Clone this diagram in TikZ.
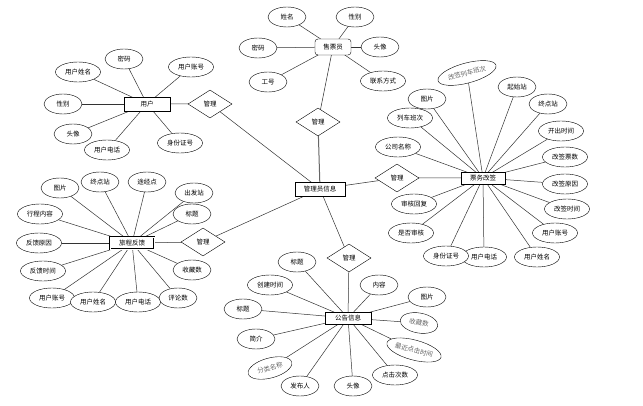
\documentclass[tikz,border=0pt]{standalone}
\usepackage{fontspec}
\setmainfont{Noto Sans CJK SC}
\usetikzlibrary{shapes.geometric,backgrounds}
\tikzset{
  attr/.style={draw, ellipse, fill=white, inner sep=0pt, minimum width=38pt, minimum height=20pt, font=\fontsize{6.5}{7}\selectfont},
  wide/.style={attr, minimum width=45pt},
  soft/.style={text=black!60},
  entity/.style={draw, rectangle, fill=white, inner sep=2pt, minimum width=44pt, minimum height=12pt, font=\fontsize{6.5}{7}\selectfont},
  rel/.style={draw, diamond, fill=white, aspect=1.6, inner sep=1pt, minimum width=44pt, minimum height=28pt, font=\fontsize{6.5}{7}\selectfont},
  link/.style={draw=black!80, line width=0.5pt}
}
\begin{document}
\begin{tikzpicture}[x=1pt, y=-1pt]
    \useasboundingbox (0,0) rectangle (643,406);
    % --- 实体 ---
    \node[entity, rounded corners=3pt, minimum width=36pt, minimum height=16pt] (seller) at (333,47) {售票员};
    \node[entity, thick, minimum width=50pt, minimum height=14pt] (admin) at (320,189) {管理员信息};
    \node[entity, minimum width=46pt, minimum height=14pt] (user) at (147,104) {用户};
    \node[entity, thick] (ticket) at (483,178) {票务改签};
    \node[entity, double] (trip) at (132,243) {旅程反馈};
    \node[entity, minimum width=46pt] (notice) at (348,318) {公告信息};

    % --- 关系 ---
    \node[rel] (r1) at (318,122) {管理};
    \node[rel] (r2) at (210,104) {管理};
    \node[rel] (r3) at (397,178) {管理};
    \node[rel] (r4) at (203,242) {管理};
    \node[rel] (r5) at (349,258) {管理};

    % --- 售票员 属性 ---
    \node[attr] (s1) at (287,17) {姓名};
    \node[attr] (s2) at (355,17) {性别};
    \node[attr] (s3) at (258,48) {密码};
    \node[attr] (s4) at (380,47) {头像};
    \node[attr] (s5) at (268,82) {工号};
    \node[wide] (s6) at (383,81) {联系方式};

    % --- 用户 属性 ---
    \node[wide] (u1) at (78,72) {用户姓名};
    \node[attr] (u2) at (124,59) {密码};
    \node[wide] (u3) at (191,67) {用户账号};
    \node[attr] (u4) at (63,104) {性别};
    \node[attr] (u5) at (73,134) {头像};
    \node[wide] (u6) at (107,150) {用户电话};
    \node[wide] (u7) at (180,143) {身份证号};

    % --- 票务改签 属性 ---
    \node[attr, soft, minimum width=60pt, rotate=15] (t1) at (467,73) {改签列车班次};
    \node[attr] (t2) at (517,87) {起始站};
    \node[attr] (t3) at (548,104) {终点站};
    \node[wide] (t4) at (561,131) {开出时间};
    \node[wide] (t5) at (565,157) {改签票数};
    \node[wide] (t6) at (565,184) {改签原因};
    \node[wide] (t7) at (567,209) {改签时间};
    \node[wide] (t8) at (555,233) {用户账号};
    \node[wide] (t9) at (537,257) {用户姓名};
    \node[wide] (t10) at (484,257) {用户电话};
    \node[wide] (t11) at (446,256) {身份证号};
    \node[wide] (t12) at (411,233) {是否审核};
    \node[wide] (t13) at (414,204) {审核回复};
    \node[wide] (t14) at (398,147) {公司名称};
    \node[wide] (t15) at (410,118) {列车班次};
    \node[attr] (t16) at (427,99) {图片};

    % --- 旅程反馈 属性 ---
    \node[attr] (f1) at (60,188) {图片};
    \node[attr] (f2) at (100,182) {终点站};
    \node[attr] (f3) at (147,182) {途经点};
    \node[attr] (f4) at (194,193) {出发站};
    \node[attr] (f5) at (192,214) {标题};
    \node[wide] (f6) at (40,214) {行程内容};
    \node[wide] (f7) at (39,243) {反馈原因};
    \node[wide] (f8) at (43,271) {反馈时间};
    \node[attr] (f9) at (192,270) {收藏数};
    \node[wide] (f10) at (52,298) {用户账号};
    \node[wide] (f11) at (93,302) {用户姓名};
    \node[wide] (f12) at (138,302) {用户电话};
    \node[attr] (f13) at (178,298) {评论数};

    % --- 公告信息 属性 ---
    \node[attr] (n1) at (297,262) {标题};
    \node[wide] (n2) at (270,285) {创建时间};
    \node[attr] (n3) at (243,309) {标题};
    \node[attr] (n4) at (256,339) {简介};
    \node[wide, soft, rotate=15] (n5) at (270,368) {分类名称};
    \node[attr] (n6) at (300,386) {发布人};
    \node[attr] (n7) at (353,386) {头像};
    \node[wide] (n8) at (395,375) {点击次数};
    \node[attr, soft, minimum width=56pt, rotate=-15] (n9) at (414,350) {最近点击时间};
    \node[attr, soft, rotate=-10] (n10) at (419,323) {收藏数};
    \node[attr] (n11) at (427,297) {图片};
    \node[attr] (n12) at (379,285) {内容};

    % --- 连线 ---
    \begin{scope}[on background layer]
      \foreach \a in {s1,s2,s3,s4,s5,s6} \draw[link] (\a) -- (seller.center);
      \foreach \a in {u1,u2,u3,u4,u5,u6,u7} \draw[link] (\a) -- (user.center);
      \foreach \a in {t1,t2,t3,t4,t5,t6,t7,t8,t9,t10,t11,t12,t13,t14,t15,t16} \draw[link] (\a) -- (ticket.center);
      \foreach \a in {f1,f2,f3,f4,f5,f6,f7,f8,f9,f10,f11,f12,f13} \draw[link] (\a) -- (trip.center);
      \foreach \a in {n1,n2,n3,n4,n5,n6,n7,n8,n9,n10,n11,n12} \draw[link] (\a) -- (notice.center);
      \draw[link] (seller.center) -- (r1.center);
      \draw[link, line width=1pt, draw=black!60] (r1.center) -- (admin.center);
      \draw[link] (user.center) -- (r2.center) -- (admin.center);
      \draw[link] (ticket.center) -- (r3.center) -- (admin.center);
      \draw[link] (trip.center) -- (r4.center) -- (admin.center);
      \draw[link] (admin.center) -- (r5.center) -- (notice.center);
    \end{scope}
\end{tikzpicture}
\end{document}
